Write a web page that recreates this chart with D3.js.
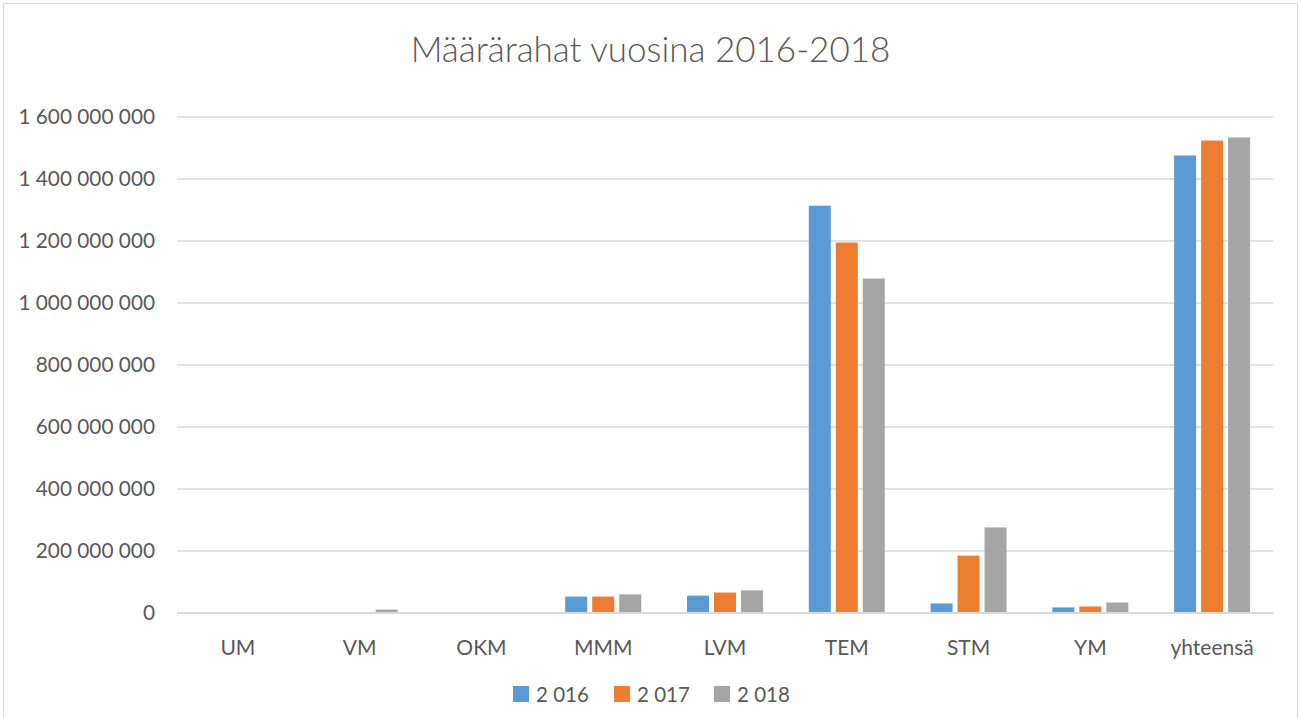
<!DOCTYPE html>
<html>
<head>
<meta charset="utf-8">
<script src="https://cdn.jsdelivr.net/npm/d3@7"></script>
<style>
  body { margin: 0; background: #fff; }
  text { font-family: Lato, "Open Sans", sans-serif; fill: #595959; }
</style>
</head>
<body>
<div id="chart"></div>
<script>
// data
var categories = ["UM", "VM", "OKM", "MMM", "LVM", "TEM", "STM", "YM", "yhteensä"];
var years = ["2 016", "2 017", "2 018"];
var v2016 = [0, 0, 0, 53000000, 56000000, 1314000000, 31000000, 18000000, 1476000000];
var v2017 = [0, 0, 0, 53000000, 66000000, 1195000000, 185000000, 21000000, 1524000000];
var v2018 = [0, 11000000, 0, 60000000, 73000000, 1079000000, 276000000, 34000000, 1534000000];
var yTicks = [0, 200000000, 400000000, 600000000, 800000000, 1000000000, 1200000000, 1400000000, 1600000000];
var colors = ["#5b9bd5", "#ed7d31", "#a5a5a5"];

var W = 1301, H = 718;
var margin = {top: 117, right: 28, bottom: 105, left: 177},
    width = W - margin.left - margin.right,
    height = H - margin.top - margin.bottom;

var fi = d3.formatLocale({decimal: ",", thousands: " ", grouping: [3], currency: ["", ""]});
var fmt = fi.format(",d");

var svg = d3.select("#chart").append("svg")
    .attr("width", W)
    .attr("height", H);

svg.append("rect")
    .attr("x", 3.5).attr("y", 3.5)
    .attr("width", W - 7).attr("height", H + 10)
    .attr("fill", "#fff")
    .attr("stroke", "#d9d9d9");

svg.append("text")
    .attr("x", W / 2)
    .attr("y", 62)
    .attr("text-anchor", "middle")
    .style("font-size", "35px")
    .style("font-weight", "300")
    .text("Määrärahat vuosina 2016-2018");

var g = svg.append("g")
    .attr("transform", "translate(" + margin.left + "," + margin.top + ")");

var x0 = d3.scaleBand().domain(categories).range([0, width])
    .paddingInner(0.376).paddingOuter(0.188);
var x1 = d3.scaleBand().domain(years).range([0, x0.bandwidth()])
    .paddingInner(0.185).paddingOuter(0);
var y = d3.scaleLinear().domain([0, 1600000000]).range([height, 0]);

// gridlines
g.selectAll(".grid")
    .data(yTicks)
    .enter().append("line")
    .attr("x1", 0).attr("x2", width)
    .attr("y1", function(d) { return y(d); })
    .attr("y2", function(d) { return y(d); })
    .attr("stroke", "#d9d9d9")
    .attr("stroke-width", 1.5);

var yAxis = d3.axisLeft(y).tickValues(yTicks).tickFormat(fmt).tickSize(0).tickPadding(22);
g.append("g").call(yAxis)
  .call(function(s) { s.select(".domain").remove(); })
  .selectAll("text")
    .style("font-size", "20.8px")
    .style("fill", "#595959");

var data = categories.map(function(c, i) {
  return {cat: c, vals: [v2016[i], v2017[i], v2018[i]]};
});

var groups = g.selectAll(".grp")
    .data(data)
    .enter().append("g")
    .attr("transform", function(d) { return "translate(" + x0(d.cat) + ",0)"; });

groups.selectAll("rect")
    .data(function(d) { return d.vals.map(function(v, j) { return {year: years[j], value: v, j: j}; }); })
    .enter().append("rect")
    .attr("x", function(d) { return x1(d.year); })
    .attr("width", x1.bandwidth())
    .attr("y", function(d) { return y(d.value); })
    .attr("height", function(d) { return height - y(d.value); })
    .attr("fill", function(d) { return colors[d.j]; });

// zero axis line
g.append("line")
    .attr("x1", 0).attr("x2", width)
    .attr("y1", y(0)).attr("y2", y(0))
    .attr("stroke", "#d9d9d9")
    .attr("stroke-width", 2);

var xAxis = d3.axisBottom(x0).tickSize(0).tickPadding(27);
g.append("g")
    .attr("transform", "translate(0," + height + ")")
    .call(xAxis)
  .call(function(s) { s.select(".domain").remove(); })
  .selectAll("text")
    .style("font-size", "21px")
    .style("fill", "#595959");

// legend
var legendX = [513, 614, 714];
var legend = svg.selectAll(".leg")
    .data(years)
    .enter().append("g")
    .attr("transform", function(d, i) { return "translate(" + legendX[i] + ",686)"; });
legend.append("rect")
    .attr("width", 16).attr("height", 16)
    .attr("fill", function(d, i) { return colors[i]; });
legend.append("text")
    .attr("x", 23).attr("y", 16)
    .style("font-size", "20.5px")
    .text(function(d) { return d; });
</script>
</body>
</html>
